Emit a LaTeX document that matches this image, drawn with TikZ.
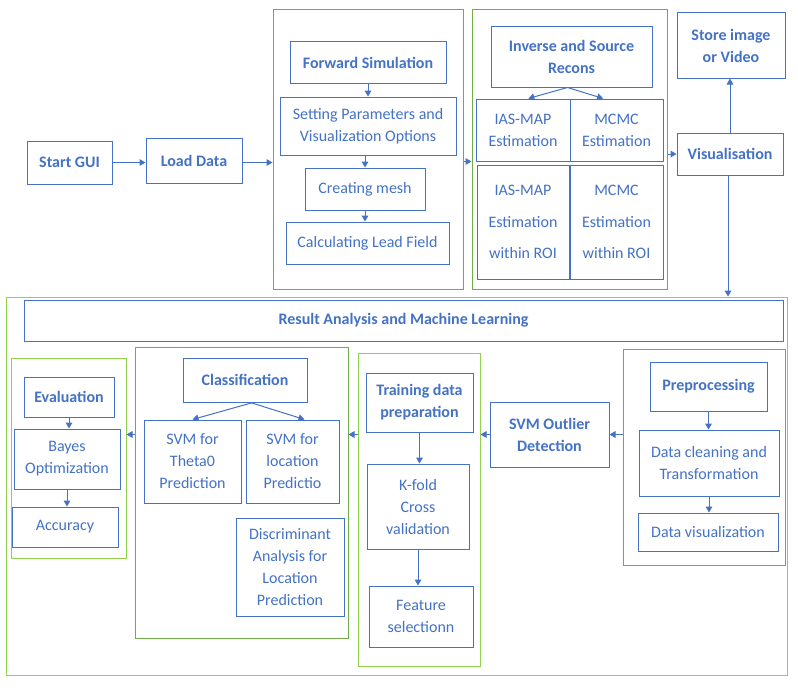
\documentclass[tikz,border=0pt]{standalone}
\usepackage{fontspec}
\setmainfont{Carlito}
\usetikzlibrary{arrows.meta}
\definecolor{azul}{HTML}{4472C4}
\definecolor{verde}{HTML}{70AD47}
\definecolor{verdeclaro}{HTML}{92D050}
\begin{document}
\begin{tikzpicture}[x=0.75pt,y=-0.75pt,
    caixa/.style 2 args={draw=azul, line width=0.75pt, text=azul, align=center, inner sep=0pt,
        minimum width=#1*0.75pt, minimum height=#2*0.75pt, font=\fontsize{12}{16.5}\selectfont},
    titulo/.style={font=\fontsize{12}{16.5}\selectfont\bfseries},
    grupo/.style 2 args={draw=verde, line width=0.75pt, inner sep=0pt,
        minimum width=#1*0.75pt, minimum height=#2*0.75pt},
    claro/.style={draw=verdeclaro},
    seta/.style={draw=azul, line width=0.75pt, -{Triangle[width=5pt,length=4.5pt]}}]
    % Fundo
    \fill[white] (0,0) rectangle (798,692);
    \useasboundingbox (0,0) rectangle (798,692);

    % Grupos
    \node[grupo={190}{279}] (gfwd) at (368,149.5) {};
    \node[grupo={195}{279}] (ginv) at (569.5,149.5) {};
    \node[grupo={781}{378}, claro] (gres) at (396.5,486) {};
    \node[grupo={115}{200}, claro] (geval) at (68.5,458) {};
    \node[grupo={213}{291}] (gclass) at (241.5,492.5) {};
    \node[grupo={122}{313}, claro] (gtrain) at (419,509.5) {};
    \node[grupo={162}{216}] (gpre) at (704,457) {};

    % Parte de cima
    \node[caixa={85}{43}, titulo] (start) at (69.5,162.5) {Start GUI};
    \node[caixa={96}{45}, titulo] (load) at (194,160.5) {Load Data};
    \node[caixa={156}{41}, titulo] (fwd) at (368,62.5) {Forward Simulation};
    \node[caixa={176}{58}] (param) at (368,126) {Setting Parameters and\\Visualization Options};
    \node[caixa={120}{42}] (mesh) at (365,189) {Creating mesh};
    \node[caixa={163}{42}] (lead) at (367.5,243) {Calculating Lead Field};
    \node[caixa={161}{60}, titulo] (inv) at (571.5,57) {Inverse and Source\\Recons};
    \node[caixa={94}{62}] (iasmap) at (523,130) {IAS-MAP\\Estimation};
    \node[caixa={93}{62}] (mcmc) at (616.5,130) {MCMC\\Estimation};
    \node[caixa={92}{114}] (iasroi) at (523,222) {IAS-MAP\\[7pt]Estimation\\[7pt]within ROI};
    \node[caixa={93}{114}] (mcmcroi) at (616.5,222) {MCMC\\[7pt]Estimation\\[7pt]within ROI};
    \node[caixa={106}{42}, titulo] (vis) at (730,154) {Visualisation};
    \node[caixa={108}{65}, titulo] (store) at (731,45.5) {Store image\\or Video};

    % Parte de baixo
    \node[caixa={759}{41}, titulo] (banner) at (403.5,320.5) {Result Analysis and Machine Learning};
    \node[caixa={90}{40}, titulo] (eval) at (69,397) {Evaluation};
    \node[caixa={106}{60}] (bayes) at (67,459) {Bayes\\Optimization};
    \node[caixa={106}{40}] (acc) at (65,527) {Accuracy};
    \node[caixa={124}{44}, titulo] (class) at (245,380) {Classification};
    \node[caixa={97}{83}] (svmtheta) at (192.5,461.5) {SVM for\\Theta0\\Prediction};
    \node[caixa={93}{83}] (svmloc) at (292.5,461.5) {SVM for\\location\\Predictio};
    \node[caixa={108}{98}] (discr) at (290,567) {Discriminant\\Analysis for\\Location\\Prediction};
    \node[caixa={107}{59}, titulo] (train) at (419.5,402.5) {Training data\\preparation};
    \node[caixa={102}{85}] (kfold) at (418,506.5) {K-fold\\Cross\\validation};
    \node[caixa={104}{61}] (feat) at (421,616.5) {Feature\\selectionn};
    \node[caixa={119}{65}, titulo] (outlier) at (549.5,434.5) {SVM Outlier\\Detection};
    \node[caixa={117}{49}, titulo] (pre) at (708.5,386.5) {Preprocessing};
    \node[caixa={140}{66}] (clean) at (709,463) {Data cleaning and\\Transformation};
    \node[caixa={140}{38}] (dvis) at (708,532) {Data visualization};

    % Setas
    \draw[seta] (start) -- (start -| load.west);
    \draw[seta] (load.east |- start) -- (gfwd.west |- start);
    \draw[seta] (fwd.south) -- (param.north);
    \draw[seta] (mesh.north |- param.south) -- (mesh.north);
    \draw[seta] (mesh.south) -- (mesh.south |- lead.north);
    \draw[seta] (gfwd.east |- iasmap.south) -- (ginv.west |- iasmap.south);
    \draw[seta] ([xshift=-3pt]inv.south) -- ([xshift=4pt]iasmap.north);
    \draw[seta] ([xshift=-3pt]inv.south) -- ([xshift=-10pt]mcmc.north);
    \draw[seta] (vis -| ginv.east) -- (vis.west);
    \draw[seta] (vis.north) -- (vis.north |- store.south);
    \draw[seta] ([xshift=-1.5pt]vis.south) -- ([xshift=-1.5pt]vis.south |- gres.north);
    \draw[seta] (pre.south) -- (pre.south |- clean.north);
    \draw[seta] (clean.south) -- (clean.south |- dvis.north);
    \draw[seta] (outlier -| gpre.west) -- (outlier.east);
    \draw[seta] (outlier.west) -- (outlier -| gtrain.east);
    \draw[seta] (train.south) -- (train.south |- kfold.north);
    \draw[seta] (kfold.south) -- (kfold.south |- feat.north);
    \draw[seta] (gtrain.west |- outlier) -- (gclass.east |- outlier);
    \draw[seta] (gclass.west |- outlier) -- (geval.east |- outlier);
    \draw[seta] ([xshift=6pt]class.south) -- (svmtheta.north);
    \draw[seta] ([xshift=4pt]class.south) -- ([xshift=9pt]svmloc.north);
    \draw[seta] (eval.south) -- (eval.south |- bayes.north);
    \draw[seta] (bayes.south) -- (bayes.south |- acc.north);
\end{tikzpicture}
\end{document}
